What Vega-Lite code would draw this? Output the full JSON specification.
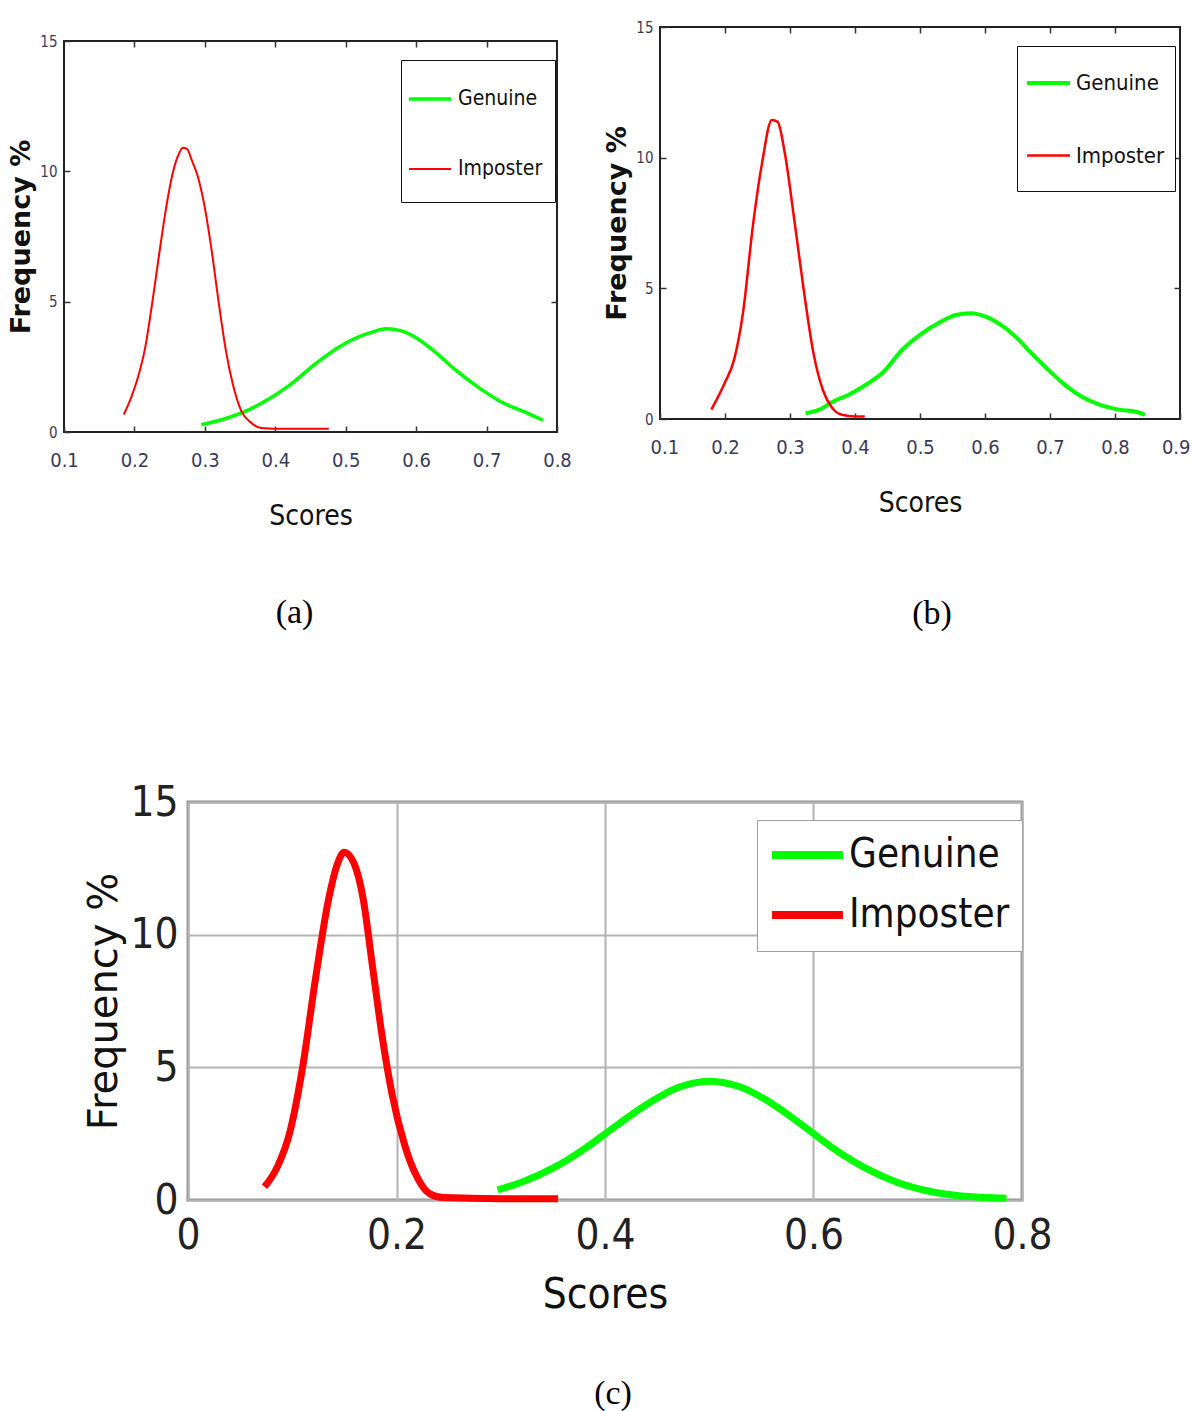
{
  "$schema": "https://vega.github.io/schema/vega-lite/v6.json",
  "background": "white",
  "padding": {"left": 6, "top": 19, "right": 0, "bottom": 0},
  "config": {
    "axis": {"labelOverlap": false, "labelFlush": false, "labelBound": false, "domain": false, "grid": false},
    "title": {"font": "Liberation Serif", "fontWeight": "normal", "color": "#000000"},
    "legend": {"labelLimit": 400}
  },
  "datasets": {
    "a": [
      {"score": 0.295, "freq": 0.28, "series": "Genuine"},
      {"score": 0.324, "freq": 0.47, "series": "Genuine"},
      {"score": 0.352, "freq": 0.73, "series": "Genuine"},
      {"score": 0.381, "freq": 1.11, "series": "Genuine"},
      {"score": 0.418, "freq": 1.75, "series": "Genuine"},
      {"score": 0.456, "freq": 2.59, "series": "Genuine"},
      {"score": 0.49, "freq": 3.25, "series": "Genuine"},
      {"score": 0.52, "freq": 3.67, "series": "Genuine"},
      {"score": 0.54, "freq": 3.85, "series": "Genuine"},
      {"score": 0.557, "freq": 3.96, "series": "Genuine"},
      {"score": 0.579, "freq": 3.88, "series": "Genuine"},
      {"score": 0.601, "freq": 3.6, "series": "Genuine"},
      {"score": 0.628, "freq": 3.05, "series": "Genuine"},
      {"score": 0.655, "freq": 2.4, "series": "Genuine"},
      {"score": 0.688, "freq": 1.72, "series": "Genuine"},
      {"score": 0.721, "freq": 1.15, "series": "Genuine"},
      {"score": 0.754, "freq": 0.77, "series": "Genuine"},
      {"score": 0.78, "freq": 0.45, "series": "Genuine"},
      {"score": 0.185, "freq": 0.67, "series": "Imposter"},
      {"score": 0.195, "freq": 1.3, "series": "Imposter"},
      {"score": 0.205, "freq": 2.1, "series": "Imposter"},
      {"score": 0.215, "freq": 3.2, "series": "Imposter"},
      {"score": 0.225, "freq": 4.9, "series": "Imposter"},
      {"score": 0.235, "freq": 6.8, "series": "Imposter"},
      {"score": 0.245, "freq": 8.6, "series": "Imposter"},
      {"score": 0.255, "freq": 10.0, "series": "Imposter"},
      {"score": 0.262, "freq": 10.6, "series": "Imposter"},
      {"score": 0.269, "freq": 10.9, "series": "Imposter"},
      {"score": 0.275, "freq": 10.85, "series": "Imposter"},
      {"score": 0.281, "freq": 10.46, "series": "Imposter"},
      {"score": 0.29, "freq": 9.8, "series": "Imposter"},
      {"score": 0.3, "freq": 8.6, "series": "Imposter"},
      {"score": 0.31, "freq": 6.9, "series": "Imposter"},
      {"score": 0.32, "freq": 4.9, "series": "Imposter"},
      {"score": 0.33, "freq": 3.1, "series": "Imposter"},
      {"score": 0.34, "freq": 1.8, "series": "Imposter"},
      {"score": 0.352, "freq": 0.79, "series": "Imposter"},
      {"score": 0.366, "freq": 0.35, "series": "Imposter"},
      {"score": 0.38, "freq": 0.15, "series": "Imposter"},
      {"score": 0.4, "freq": 0.12, "series": "Imposter"},
      {"score": 0.44, "freq": 0.12, "series": "Imposter"},
      {"score": 0.476, "freq": 0.12, "series": "Imposter"}
    ],
    "b": [
      {"score": 0.324, "freq": 0.22, "series": "Genuine"},
      {"score": 0.345, "freq": 0.36, "series": "Genuine"},
      {"score": 0.368, "freq": 0.69, "series": "Genuine"},
      {"score": 0.392, "freq": 0.95, "series": "Genuine"},
      {"score": 0.415, "freq": 1.28, "series": "Genuine"},
      {"score": 0.444, "freq": 1.81, "series": "Genuine"},
      {"score": 0.473, "freq": 2.66, "series": "Genuine"},
      {"score": 0.502, "freq": 3.26, "series": "Genuine"},
      {"score": 0.532, "freq": 3.72, "series": "Genuine"},
      {"score": 0.555, "freq": 3.98, "series": "Genuine"},
      {"score": 0.578, "freq": 4.05, "series": "Genuine"},
      {"score": 0.601, "freq": 3.92, "series": "Genuine"},
      {"score": 0.625, "freq": 3.59, "series": "Genuine"},
      {"score": 0.648, "freq": 3.13, "series": "Genuine"},
      {"score": 0.671, "freq": 2.53, "series": "Genuine"},
      {"score": 0.695, "freq": 1.94, "series": "Genuine"},
      {"score": 0.718, "freq": 1.41, "series": "Genuine"},
      {"score": 0.747, "freq": 0.88, "series": "Genuine"},
      {"score": 0.776, "freq": 0.55, "series": "Genuine"},
      {"score": 0.806, "freq": 0.36, "series": "Genuine"},
      {"score": 0.835, "freq": 0.26, "series": "Genuine"},
      {"score": 0.846, "freq": 0.16, "series": "Genuine"},
      {"score": 0.179, "freq": 0.36, "series": "Imposter"},
      {"score": 0.199, "freq": 1.35, "series": "Imposter"},
      {"score": 0.214, "freq": 2.27, "series": "Imposter"},
      {"score": 0.228, "freq": 4.12, "series": "Imposter"},
      {"score": 0.243, "freq": 7.41, "series": "Imposter"},
      {"score": 0.257, "freq": 9.79, "series": "Imposter"},
      {"score": 0.272, "freq": 11.44, "series": "Imposter"},
      {"score": 0.281, "freq": 11.37, "series": "Imposter"},
      {"score": 0.292, "freq": 10.18, "series": "Imposter"},
      {"score": 0.307, "freq": 7.55, "series": "Imposter"},
      {"score": 0.322, "freq": 4.78, "series": "Imposter"},
      {"score": 0.336, "freq": 2.53, "series": "Imposter"},
      {"score": 0.351, "freq": 1.08, "series": "Imposter"},
      {"score": 0.365, "freq": 0.42, "series": "Imposter"},
      {"score": 0.38, "freq": 0.16, "series": "Imposter"},
      {"score": 0.4, "freq": 0.1, "series": "Imposter"},
      {"score": 0.415, "freq": 0.1, "series": "Imposter"}
    ],
    "c": [
      {"score": 0.297, "freq": 0.38, "series": "Genuine"},
      {"score": 0.32, "freq": 0.67, "series": "Genuine"},
      {"score": 0.35, "freq": 1.2, "series": "Genuine"},
      {"score": 0.38, "freq": 1.92, "series": "Genuine"},
      {"score": 0.41, "freq": 2.78, "series": "Genuine"},
      {"score": 0.44, "freq": 3.6, "series": "Genuine"},
      {"score": 0.47, "freq": 4.24, "series": "Genuine"},
      {"score": 0.5, "freq": 4.48, "series": "Genuine"},
      {"score": 0.53, "freq": 4.26, "series": "Genuine"},
      {"score": 0.56, "freq": 3.64, "series": "Genuine"},
      {"score": 0.59, "freq": 2.8, "series": "Genuine"},
      {"score": 0.62, "freq": 1.92, "series": "Genuine"},
      {"score": 0.65, "freq": 1.2, "series": "Genuine"},
      {"score": 0.68, "freq": 0.67, "series": "Genuine"},
      {"score": 0.71, "freq": 0.34, "series": "Genuine"},
      {"score": 0.74, "freq": 0.16, "series": "Genuine"},
      {"score": 0.785, "freq": 0.07, "series": "Genuine"},
      {"score": 0.0734, "freq": 0.5, "series": "Imposter"},
      {"score": 0.0856, "freq": 1.24, "series": "Imposter"},
      {"score": 0.0979, "freq": 2.59, "series": "Imposter"},
      {"score": 0.11, "freq": 5.02, "series": "Imposter"},
      {"score": 0.122, "freq": 8.26, "series": "Imposter"},
      {"score": 0.135, "freq": 11.36, "series": "Imposter"},
      {"score": 0.1437, "freq": 12.71, "series": "Imposter"},
      {"score": 0.1498, "freq": 13.11, "series": "Imposter"},
      {"score": 0.159, "freq": 12.71, "series": "Imposter"},
      {"score": 0.168, "freq": 11.36, "series": "Imposter"},
      {"score": 0.177, "freq": 8.8, "series": "Imposter"},
      {"score": 0.1865, "freq": 6.1, "series": "Imposter"},
      {"score": 0.196, "freq": 3.94, "series": "Imposter"},
      {"score": 0.208, "freq": 2.05, "series": "Imposter"},
      {"score": 0.22, "freq": 0.84, "series": "Imposter"},
      {"score": 0.232, "freq": 0.23, "series": "Imposter"},
      {"score": 0.245, "freq": 0.09, "series": "Imposter"},
      {"score": 0.3, "freq": 0.05, "series": "Imposter"},
      {"score": 0.355, "freq": 0.05, "series": "Imposter"}
    ]
  },
  "spacing": 147,
  "resolve": {"scale": {"color": "independent", "strokeWidth": "independent"}, "legend": {"color": "independent"}},
  "vconcat": [
    {
      "spacing": 29,
      "resolve": {"scale": {"color": "independent", "strokeWidth": "independent"}, "legend": {"color": "independent"}},
      "hconcat": [
        {
          "spacing": 0,
          "resolve": {"scale": {"color": "independent", "strokeWidth": "independent"}, "legend": {"color": "independent"}},
          "vconcat": [
            {
              "width": 10,
              "height": 6,
              "data": {"values": []},
              "mark": "point",
              "encoding": {},
              "view": {"stroke": null}
            },
            {
              "width": 493,
              "height": 391,
              "data": {"name": "a"},
              "view": {"stroke": "#222222", "strokeWidth": 2},
              "title": {"text": "(a)", "orient": "bottom", "fontSize": 34, "offset": 66, "anchor": "middle", "frame": "group", "dx": -16},
              "layer": [
                {
                  "mark": {"type": "line", "interpolate": "monotone"},
                  "encoding": {
                    "x": {"field": "score", "type": "quantitative", "scale": {"domain": [0.1, 0.8], "nice": false, "zero": false},
                      "axis": {"values": [0.1, 0.2, 0.3, 0.4, 0.5, 0.6, 0.7, 0.8], "format": ".1f", "ticks": true, "tickSize": -6, "tickColor": "#333333", "tickWidth": 1.5,
                        "labelFont": "DejaVu Sans Condensed, Liberation Sans Narrow, sans-serif", "labelFontSize": 20, "labelColor": "#3b3b58", "labelPadding": 24,
                        "title": "Scores", "titleFont": "DejaVu Sans Condensed, Liberation Sans Narrow, sans-serif", "titleFontSize": 28, "titleFontWeight": "normal", "titleColor": "#111111", "titlePadding": 32}},
                    "y": {"field": "freq", "type": "quantitative", "scale": {"domain": [0, 15], "nice": false},
                      "axis": {"values": [0, 5, 10, 15], "ticks": true, "tickSize": -6, "tickColor": "#333333", "tickWidth": 1.5,
                        "labelFont": "DejaVu Sans Condensed, Liberation Sans Narrow, sans-serif", "labelFontSize": 15, "labelColor": "#3b3b58", "labelPadding": 13,
                        "title": "Frequency %", "titleFont": "DejaVu Sans", "titleFontSize": 27, "titleFontWeight": "bold", "titleColor": "#111111", "titlePadding": 4}},
                    "color": {"field": "series", "type": "nominal", "scale": {"domain": ["Genuine", "Imposter"], "range": ["#00ff00", "#ff0000"]},
                      "legend": {"orient": "none", "legendX": 337, "legendY": 19, "title": null, "strokeColor": "#111111", "fillColor": "white", "padding": 12,
                        "symbolType": "M-1.24,0H0.44M0,0.68", "symbolSize": 2500, "symbolStrokeWidth": 4, "rowPadding": 20, "labelOffset": -9,
                        "labelFont": "DejaVu Sans Condensed, Liberation Sans Narrow, sans-serif", "labelFontSize": 21, "labelColor": "#111111"}},
                    "strokeWidth": {"field": "series", "type": "nominal", "scale": {"domain": ["Genuine", "Imposter"], "range": [3.5, 2]}, "legend": null}
                  }
                },
                {
                  "mark": {"type": "point", "opacity": 0},
                  "encoding": {
                    "x": {"field": "score", "type": "quantitative", "axis": {"orient": "top", "values": [0.2, 0.3, 0.4, 0.5, 0.6, 0.7], "labels": false, "title": null, "ticks": true, "tickSize": -6, "tickColor": "#333333", "tickWidth": 1.5}},
                    "y": {"field": "freq", "type": "quantitative", "axis": {"orient": "right", "values": [5, 10], "labels": false, "title": null, "ticks": true, "tickSize": -6, "tickColor": "#333333", "tickWidth": 1.5}}
                  }
                }
              ],
              "resolve": {"axis": {"x": "independent", "y": "independent"}}
            }
          ]
        },
        {
          "width": 520,
          "height": 392,
          "data": {"name": "b"},
          "view": {"stroke": "#222222", "strokeWidth": 2},
          "title": {"text": "(b)", "orient": "bottom", "fontSize": 34, "offset": 80, "anchor": "middle", "frame": "group", "dx": 12},
          "layer": [
            {
              "mark": {"type": "line", "interpolate": "monotone"},
              "encoding": {
                "x": {"field": "score", "type": "quantitative", "scale": {"domain": [0.1, 0.9], "nice": false, "zero": false},
                  "axis": {"values": [0.1, 0.2, 0.3, 0.4, 0.5, 0.6, 0.7, 0.8, 0.9], "format": ".1f", "ticks": true, "tickSize": -6, "tickColor": "#333333", "tickWidth": 1.5,
                    "labelFlush": true, "labelFlushOffset": 10,
                    "labelFont": "DejaVu Sans Condensed, Liberation Sans Narrow, sans-serif", "labelFontSize": 20, "labelColor": "#3b3b58", "labelPadding": 24,
                    "title": "Scores", "titleFont": "DejaVu Sans Condensed, Liberation Sans Narrow, sans-serif", "titleFontSize": 28, "titleFontWeight": "normal", "titleColor": "#111111", "titlePadding": 32}},
                "y": {"field": "freq", "type": "quantitative", "scale": {"domain": [0, 15], "nice": false},
                  "axis": {"values": [0, 5, 10, 15], "ticks": true, "tickSize": -6, "tickColor": "#333333", "tickWidth": 1.5,
                    "labelFont": "DejaVu Sans Condensed, Liberation Sans Narrow, sans-serif", "labelFontSize": 15, "labelColor": "#3b3b58", "labelPadding": 13,
                    "title": "Frequency %", "titleFont": "DejaVu Sans", "titleFontSize": 27, "titleFontWeight": "bold", "titleColor": "#111111", "titlePadding": 4}},
                "color": {"field": "series", "type": "nominal", "scale": {"domain": ["Genuine", "Imposter"], "range": ["#00ff00", "#ff0000"]},
                  "legend": {"orient": "none", "legendX": 357, "legendY": 19, "title": null, "strokeColor": "#111111", "fillColor": "white", "padding": 10,
                    "symbolType": "M-1.08,0H0.64M0,0.8", "symbolSize": 2500, "symbolStrokeWidth": 4, "rowPadding": 18, "labelOffset": -5,
                    "labelFont": "DejaVu Sans Condensed, Liberation Sans Narrow, sans-serif", "labelFontSize": 22, "labelColor": "#111111"}},
                "strokeWidth": {"field": "series", "type": "nominal", "scale": {"domain": ["Genuine", "Imposter"], "range": [4, 2.5]}, "legend": null}
              }
            },
            {
              "mark": {"type": "point", "opacity": 0},
              "encoding": {
                "x": {"field": "score", "type": "quantitative", "axis": {"orient": "top", "values": [0.2, 0.3, 0.4, 0.5, 0.6, 0.7, 0.8], "labels": false, "title": null, "ticks": true, "tickSize": -6, "tickColor": "#333333", "tickWidth": 1.5}},
                "y": {"field": "freq", "type": "quantitative", "axis": {"orient": "right", "values": [5, 10], "labels": false, "title": null, "ticks": true, "tickSize": -6, "tickColor": "#333333", "tickWidth": 1.5}}
              }
            }
          ],
          "resolve": {"axis": {"x": "independent", "y": "independent"}}
        }
      ]
    },
    {
      "spacing": 0,
      "resolve": {"scale": {"color": "independent", "strokeWidth": "independent"}, "legend": {"color": "independent"}},
      "hconcat": [
        {
          "width": 19,
          "height": 10,
          "data": {"values": []},
          "mark": "point",
          "encoding": {},
          "view": {"stroke": null}
        },
        {
          "width": 834,
          "height": 398,
          "data": {"name": "c"},
          "view": {"stroke": "#8f8f8f", "strokeWidth": 3},
          "title": {"text": "(c)", "orient": "bottom", "fontSize": 34, "offset": 62, "anchor": "middle", "frame": "group", "dx": 8},
          "mark": {"type": "line", "interpolate": "monotone"},
          "encoding": {
            "x": {"field": "score", "type": "quantitative", "scale": {"domain": [0, 0.8], "nice": false, "zero": false},
              "axis": {"values": [0, 0.2, 0.4, 0.6, 0.8], "format": ".1~f", "grid": true, "gridColor": "#b4b4b4", "gridWidth": 2, "ticks": false,
                "labelFont": "DejaVu Sans Condensed, Liberation Sans Narrow, sans-serif", "labelFontSize": 42, "labelColor": "#222222", "labelPadding": 15,
                "title": "Scores", "titleFont": "DejaVu Sans Condensed, Liberation Sans Narrow, sans-serif", "titleFontSize": 42, "titleFontWeight": "normal", "titleColor": "#111111", "titlePadding": 18}},
            "y": {"field": "freq", "type": "quantitative", "scale": {"domain": [0, 15], "nice": false},
              "axis": {"values": [0, 5, 10, 15], "grid": true, "gridColor": "#b4b4b4", "gridWidth": 2, "ticks": false,
                "labelFont": "DejaVu Sans Condensed, Liberation Sans Narrow, sans-serif", "labelFontSize": 42, "labelColor": "#222222", "labelPadding": 10,
                "title": "Frequency %", "titleFont": "DejaVu Sans", "titleFontSize": 40, "titleFontWeight": "normal", "titleColor": "#111111", "titlePadding": 5}},
            "color": {"field": "series", "type": "nominal", "scale": {"domain": ["Genuine", "Imposter"], "range": ["#00ff00", "#ff0000"]},
              "legend": {"orient": "none", "legendX": 569, "legendY": 18, "title": null, "strokeColor": "#a0a0a0", "fillColor": "white", "padding": 12,
                "symbolType": "M-1.05,0H2.68M0,0.42", "symbolSize": 1444, "symbolStrokeWidth": 8, "rowPadding": 13, "labelOffset": 34,
                "labelFont": "DejaVu Sans Condensed, Liberation Sans Narrow, sans-serif", "labelFontSize": 40, "labelColor": "#111111"}},
            "strokeWidth": {"value": 7}
          }
        }
      ]
    }
  ]
}
